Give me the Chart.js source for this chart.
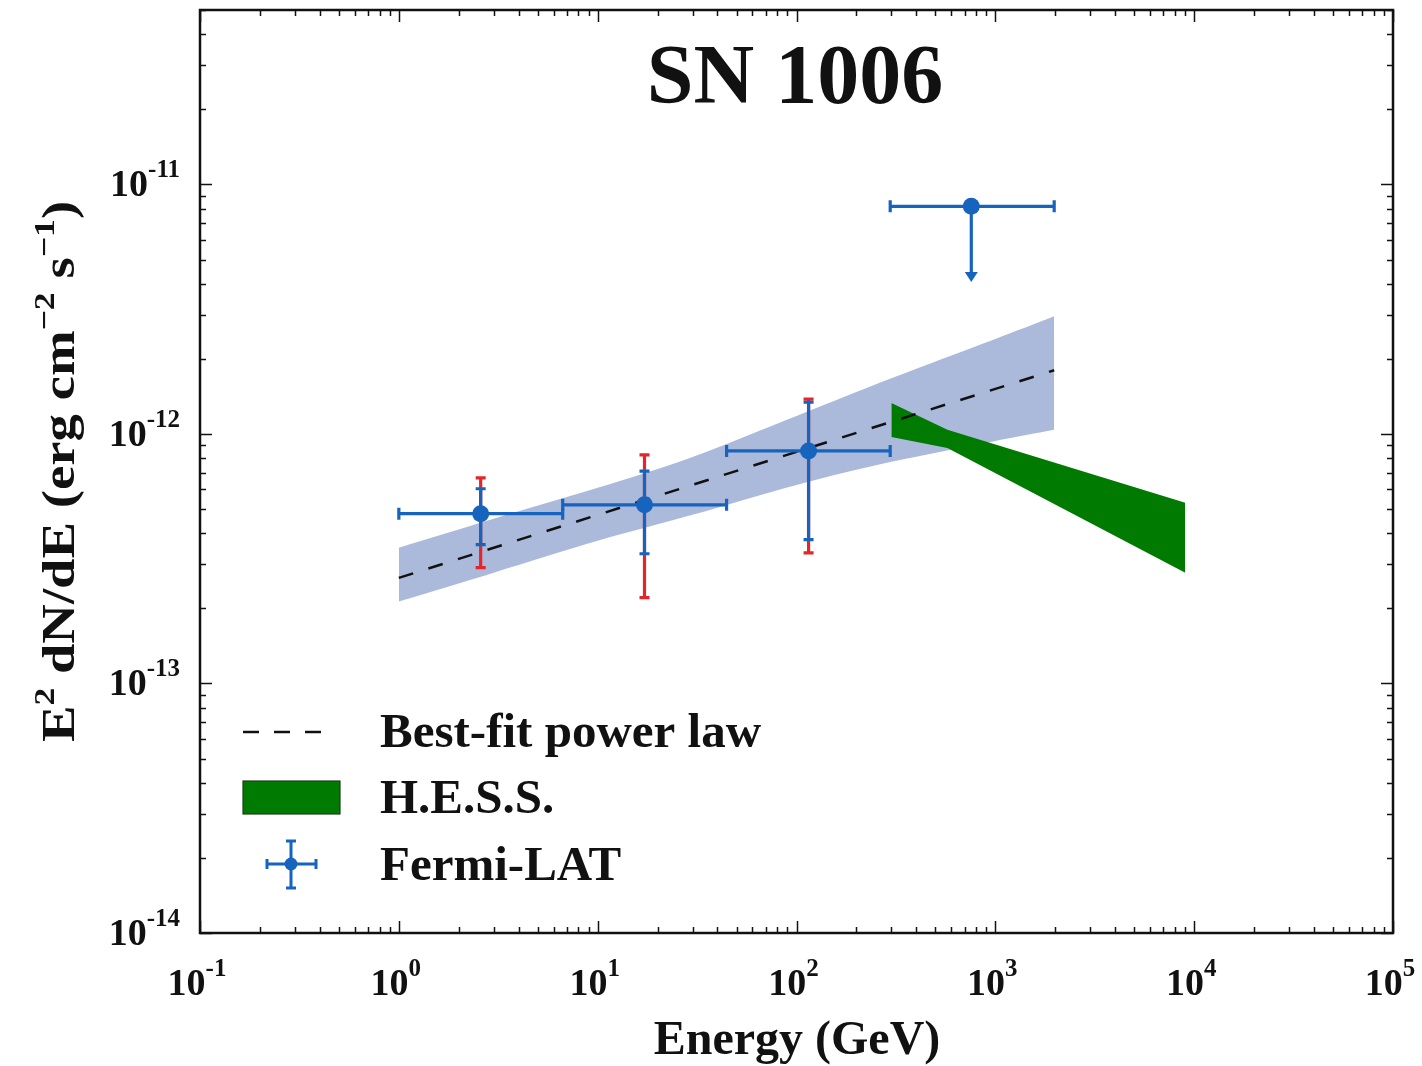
<!DOCTYPE html>
<html>
<head>
<meta charset="utf-8">
<title>SN 1006</title>
<script src="https://cdn.jsdelivr.net/npm/chart.js@4.4.1/dist/chart.umd.min.js"></script>
<style>
  html, body { margin: 0; padding: 0; background: #fff; }
  canvas { display: block; }
</style>
</head>
<body>
<canvas id="sedChart" width="1422" height="1066"></canvas>
<script>
// Fermi-LAT flux points (GeV, erg cm^-2 s^-1)
const energyCenters = [2.58, 17.2, 115];
const fluxValues = [4.79e-13, 5.2e-13, 8.55e-13];
const binLow = [1.0, 6.67, 44.5];
const binHigh = [6.67, 44.5, 296];
const statLow = [3.6e-13, 3.31e-13, 3.77e-13];
const statHigh = [6.03e-13, 7.1e-13, 1.34e-12];
const sysLow = [2.91e-13, 2.21e-13, 3.34e-13];
const sysHigh = [6.67e-13, 8.24e-13, 1.38e-12];

// upper limit in the last bin
const ulEnergy = [757];
const ulFlux = [8.17e-12];
const ulBinLow = [296];
const ulBinHigh = [1977];
const ulArrowTo = [4.06e-12];

// best-fit power law and its error band
const fitEnergy = [1, 1977];
const fitFlux = [2.65e-13, 1.80e-12];
const fitBandEnergy = [1, 3, 10, 30, 100, 300, 1000, 1977];
const fitBandHigh = [3.50e-13, 4.57e-13, 6.08e-13, 8.09e-13, 1.18e-12, 1.67e-12, 2.40e-12, 2.96e-12];
const fitBandLow = [2.13e-13, 2.78e-13, 3.73e-13, 4.74e-13, 6.25e-13, 7.73e-13, 9.38e-13, 1.04e-12];

// H.E.S.S. butterfly
const hessEnergy = [300, 574, 9020];
const hessHigh = [1.33e-12, 1.04e-12, 5.30e-13];
const hessLow = [9.73e-13, 8.79e-13, 2.78e-13];

// axis ranges and tick decades
const xMin = 0.1, xMax = 1e5;
const yMin = 1e-14, yMax = 5e-11;
const xDecades = [-1, 0, 1, 2, 3, 4, 5];
const yDecades = [-14, -13, -12, -11];

const BLUE = '#1764be';
const RED = '#e3262c';
const BAND = '#abb9db';
const GREEN = '#007a00';
const INK = '#111';
const FONT = '"Liberation Serif", "Times New Roman", serif';

function pts(xs, ys) {
    return xs.map((x, i) => ({ x: x, y: ys[i] }));
}

// text with a raised exponent part
function supText(ctx, parts, x, y, align) {
    let total = 0;
    parts.forEach(p => {
        ctx.font = 'bold ' + p.size + 'px ' + FONT;
        p.w = ctx.measureText(p.t).width;
        total += p.w;
    });
    let cx = x;
    if (align === 'center') cx = x - total / 2;
    if (align === 'right') cx = x - total;
    ctx.textAlign = 'left';
    ctx.textBaseline = 'alphabetic';
    parts.forEach(p => {
        ctx.font = 'bold ' + p.size + 'px ' + FONT;
        ctx.fillText(p.t, cx, y - (p.rise || 0));
        cx += p.w;
    });
    return total;
}

function hBar(ctx, x1, x2, y, cap) {
    ctx.beginPath();
    ctx.moveTo(x1, y); ctx.lineTo(x2, y);
    ctx.moveTo(x1, y - cap / 2); ctx.lineTo(x1, y + cap / 2);
    ctx.moveTo(x2, y - cap / 2); ctx.lineTo(x2, y + cap / 2);
    ctx.stroke();
}

function vBar(ctx, x, y1, y2, cap) {
    ctx.beginPath();
    ctx.moveTo(x, y1); ctx.lineTo(x, y2);
    ctx.moveTo(x - cap / 2, y1); ctx.lineTo(x + cap / 2, y1);
    ctx.moveTo(x - cap / 2, y2); ctx.lineTo(x + cap / 2, y2);
    ctx.stroke();
}

// error bars under the Fermi points
const errorBars = {
    id: 'errorBars',
    beforeDatasetDraw(chart, args) {
        const ds = chart.data.datasets[args.index];
        if (ds.label !== 'Fermi-LAT') return;
        const ctx = chart.ctx;
        const xs = chart.scales.x, ys = chart.scales.y;
        ctx.save();
        ctx.lineCap = 'butt';
        // systematic (red) first
        ctx.strokeStyle = RED;
        ctx.lineWidth = 3.2;
        energyCenters.forEach((e, i) => {
            vBar(ctx, xs.getPixelForValue(e), ys.getPixelForValue(sysHigh[i]), ys.getPixelForValue(sysLow[i]), 10);
        });
        ctx.strokeStyle = BLUE;
        energyCenters.forEach((e, i) => {
            const px = xs.getPixelForValue(e), py = ys.getPixelForValue(fluxValues[i]);
            vBar(ctx, px, ys.getPixelForValue(statHigh[i]), ys.getPixelForValue(statLow[i]), 10);
            hBar(ctx, xs.getPixelForValue(binLow[i]), xs.getPixelForValue(binHigh[i]), py, 12);
        });
        // upper limit
        ulEnergy.forEach((e, i) => {
            const px = xs.getPixelForValue(e), py = ys.getPixelForValue(ulFlux[i]);
            const tip = ys.getPixelForValue(ulArrowTo[i]);
            hBar(ctx, xs.getPixelForValue(ulBinLow[i]), xs.getPixelForValue(ulBinHigh[i]), py, 12);
            ctx.beginPath();
            ctx.moveTo(px, py); ctx.lineTo(px, tip - 8);
            ctx.stroke();
            ctx.fillStyle = BLUE;
            ctx.beginPath();
            ctx.moveTo(px - 6.5, tip - 10);
            ctx.lineTo(px + 6.5, tip - 10);
            ctx.lineTo(px, tip);
            ctx.closePath();
            ctx.fill();
        });
        ctx.restore();
    }
};

// frame, ticks, labels, titles and legend in matplotlib style
const decorations = {
    id: 'decorations',
    afterDraw(chart) {
        const ctx = chart.ctx;
        const a = chart.chartArea;
        const xs = chart.scales.x, ys = chart.scales.y;
        ctx.save();
        ctx.strokeStyle = INK;
        ctx.lineWidth = 1.5;

        // x ticks, bottom and top, pointing inward
        xDecades.forEach(d => {
            for (let m = 1; m <= 9; m++) {
                const v = m * Math.pow(10, d);
                if (v < xMin * 0.999 || v > xMax * 1.001) continue;
                const px = Math.round(xs.getPixelForValue(v)) + 0.5;
                const len = m === 1 ? 12 : 6;
                ctx.beginPath();
                ctx.moveTo(px, a.bottom); ctx.lineTo(px, a.bottom - len);
                ctx.moveTo(px, a.top); ctx.lineTo(px, a.top + len);
                ctx.stroke();
            }
        });
        // y ticks, left and right
        yDecades.forEach(d => {
            for (let m = 1; m <= 9; m++) {
                const v = m * Math.pow(10, d);
                if (v < yMin * 0.999 || v > yMax * 1.001) continue;
                const py = Math.round(ys.getPixelForValue(v)) + 0.5;
                const len = m === 1 ? 12 : 6;
                ctx.beginPath();
                ctx.moveTo(a.left, py); ctx.lineTo(a.left + len, py);
                ctx.moveTo(a.right, py); ctx.lineTo(a.right - len, py);
                ctx.stroke();
            }
        });

        // frame
        ctx.lineWidth = 2.5;
        ctx.strokeRect(a.left, a.top, a.right - a.left, a.bottom - a.top);

        // tick labels
        ctx.fillStyle = INK;
        xDecades.forEach(d => {
            const px = xs.getPixelForValue(Math.pow(10, d));
            supText(ctx, [{ t: '10', size: 38 }, { t: String(d), size: 25, rise: 19 }], px - 3, a.bottom + 62, 'center');
        });
        yDecades.forEach(d => {
            const py = ys.getPixelForValue(Math.pow(10, d));
            supText(ctx, [{ t: '10', size: 38 }, { t: String(d), size: 25, rise: 19 }], a.left - 20, py + 12, 'right');
        });

        // title
        ctx.font = 'bold 84px ' + FONT;
        ctx.textAlign = 'center';
        ctx.textBaseline = 'alphabetic';
        ctx.fillText('SN 1006', 795, 103);

        // x axis title
        ctx.font = 'bold 48px ' + FONT;
        ctx.fillText('Energy (GeV)', 797, 1054);

        // y axis title, rotated and a little widened
        ctx.save();
        ctx.translate(74, (a.top + a.bottom) / 2);
        ctx.rotate(-Math.PI / 2);
        ctx.scale(1.19, 1);
        supText(ctx, [
            { t: 'E', size: 46 },
            { t: '2', size: 30, rise: 20 },
            { t: ' dN/dE (erg cm', size: 46 },
            { t: '\u22122', size: 30, rise: 20 },
            { t: ' s', size: 46 },
            { t: '\u22121', size: 30, rise: 20 },
            { t: ')', size: 46 }
        ], 0, 0, 'center');
        ctx.restore();

        // legend
        ctx.lineWidth = 2.5;
        ctx.strokeStyle = INK;
        ctx.setLineDash([16, 15]);
        ctx.beginPath();
        ctx.moveTo(243, 732); ctx.lineTo(326, 732);
        ctx.stroke();
        ctx.setLineDash([]);

        ctx.fillStyle = GREEN;
        ctx.fillRect(243, 781, 97, 33);
        ctx.strokeStyle = '#1e3d1e';
        ctx.lineWidth = 1.2;
        ctx.strokeRect(243, 781, 97, 33);

        ctx.strokeStyle = BLUE;
        ctx.lineWidth = 3;
        hBar(ctx, 267, 316, 864, 10);
        vBar(ctx, 291, 841, 888, 10);
        ctx.fillStyle = BLUE;
        ctx.beginPath();
        ctx.arc(291, 864, 6.5, 0, Math.PI * 2);
        ctx.fill();

        ctx.fillStyle = INK;
        ctx.font = 'bold 49px ' + FONT;
        ctx.textAlign = 'left';
        ctx.fillText('Best-fit power law', 380, 747);
        ctx.fillText('H.E.S.S.', 380, 813);
        ctx.fillText('Fermi-LAT', 380, 880);

        ctx.restore();
    }
};

const ctx = document.getElementById('sedChart').getContext('2d');
new Chart(ctx, {
    type: 'line',
    data: {
        datasets: [
            {
                label: 'Fermi band high',
                data: pts(fitBandEnergy, fitBandHigh),
                borderWidth: 0,
                pointRadius: 0,
                tension: 0.3,
                backgroundColor: BAND,
                fill: '+1',
                order: 6
            },
            {
                label: 'Fermi band low',
                data: pts(fitBandEnergy, fitBandLow),
                borderWidth: 0,
                pointRadius: 0,
                tension: 0.3,
                fill: false,
                order: 7
            },
            {
                label: 'H.E.S.S. high',
                data: pts(hessEnergy, hessHigh),
                borderWidth: 0,
                pointRadius: 0,
                backgroundColor: GREEN,
                fill: '+1',
                order: 4
            },
            {
                label: 'H.E.S.S. low',
                data: pts(hessEnergy, hessLow),
                borderWidth: 0,
                pointRadius: 0,
                fill: false,
                order: 5
            },
            {
                label: 'Best-fit power law',
                data: pts(fitEnergy, fitFlux),
                borderColor: INK,
                borderWidth: 2.5,
                borderDash: [15, 16],
                pointRadius: 0,
                fill: false,
                order: 3
            },
            {
                label: 'Fermi-LAT',
                data: pts(energyCenters.concat(ulEnergy), fluxValues.concat(ulFlux)),
                showLine: false,
                pointRadius: 8.5,
                pointBackgroundColor: BLUE,
                pointBorderWidth: 0,
                fill: false,
                order: 1
            }
        ]
    },
    options: {
        responsive: false,
        devicePixelRatio: 1,
        animation: false,
        layout: { padding: { top: 10, right: 29, left: 0, bottom: 0 } },
        plugins: {
            legend: { display: false },
            tooltip: { enabled: false },
            title: { display: false }
        },
        scales: {
            x: {
                type: 'logarithmic',
                min: xMin,
                max: xMax,
                ticks: { display: false },
                grid: { display: false },
                border: { display: false },
                afterFit(scale) { scale.height = 133; }
            },
            y: {
                type: 'logarithmic',
                min: yMin,
                max: yMax,
                ticks: { display: false },
                grid: { display: false },
                border: { display: false },
                afterFit(scale) { scale.width = 200; }
            }
        }
    },
    plugins: [errorBars, decorations]
});
</script>
</body>
</html>
